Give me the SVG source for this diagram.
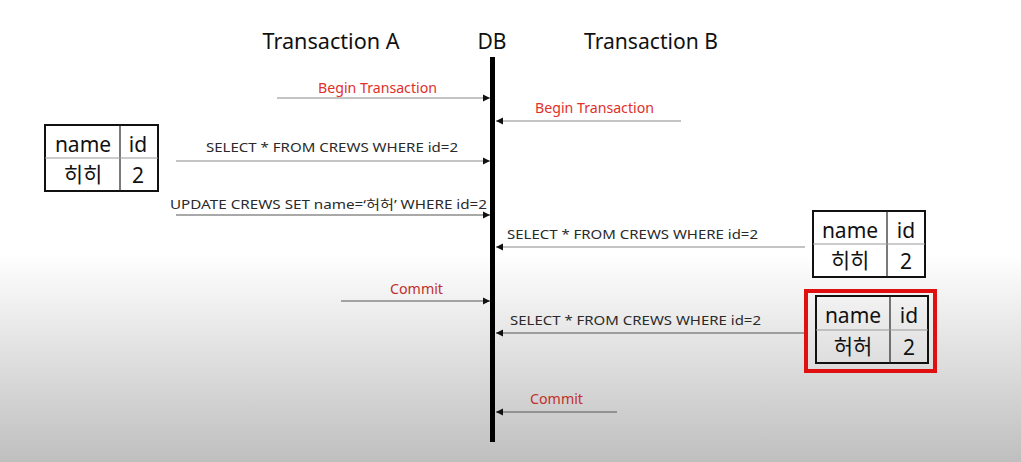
<svg xmlns="http://www.w3.org/2000/svg" width="1021" height="462" viewBox="0 0 1021 462">
<defs>
<linearGradient id="bg" x1="0" y1="0" x2="0" y2="462" gradientUnits="userSpaceOnUse">
<stop offset="0" stop-color="#ffffff"/>
<stop offset="0.55" stop-color="#ffffff"/>
<stop offset="1" stop-color="#bfbfbf"/>
</linearGradient>
<marker id="ah" markerWidth="8" markerHeight="8" refX="7" refY="4" orient="auto" markerUnits="userSpaceOnUse">
<path d="M0,0.5 L7,4 L0,7.5 Z" fill="#111"/>
</marker>
<style>
.hdr{font-family:"Noto Sans","Liberation Sans",sans-serif;font-size:21px;fill:#111;text-anchor:middle}
.lbl{font-family:"Noto Sans","Noto Sans CJK KR","Liberation Sans",sans-serif;font-size:13px;fill:#2a2a2a}
.red{font-family:"Noto Sans","Liberation Sans",sans-serif;font-size:13.5px;fill:#e0302a}
.dred{font-family:"Noto Sans","Liberation Sans",sans-serif;font-size:13.5px;fill:#c0302a}
.msg{stroke:#8a8a8a;stroke-width:1.2;fill:none}
.msg2{stroke:#555;stroke-width:1.2;fill:none}
.tb{fill:#fff;stroke:#111;stroke-width:2}
.tbg{fill:none;stroke:#111;stroke-width:2}
.cdiv{stroke:#222;stroke-width:1.2}
.rdiv{stroke:#999;stroke-width:1}
.cell{font-family:"Noto Sans","Noto Sans CJK KR",sans-serif;font-size:21px;fill:#111;text-anchor:middle}
.kr{font-family:"Noto Sans CJK KR","Noto Sans",sans-serif;font-size:21px;fill:#111;text-anchor:middle}
</style>
</defs>
<rect x="0" y="0" width="1021" height="462" fill="url(#bg)"/>

<g id="headers">
<text class="hdr" x="331" y="49" textLength="137" lengthAdjust="spacingAndGlyphs">Transaction A</text>
<text class="hdr" x="492" y="49" textLength="29" lengthAdjust="spacingAndGlyphs">DB</text>
<text class="hdr" x="651" y="49" textLength="134" lengthAdjust="spacingAndGlyphs">Transaction B</text>
</g>

<g id="db-lifeline">
<line x1="492.5" y1="57" x2="492.5" y2="442" stroke="#000" stroke-width="5"/>
</g>

<g id="connectors">
<line class="msg" x1="277" y1="98" x2="490" y2="98" marker-end="url(#ah)"/>
<line class="msg" x1="681" y1="121" x2="496" y2="121" marker-end="url(#ah)"/>
<line class="msg" x1="176" y1="161" x2="490" y2="161" marker-end="url(#ah)"/>
<line class="msg2" x1="176" y1="215" x2="490" y2="215" marker-end="url(#ah)"/>
<line class="msg" x1="805" y1="247" x2="496" y2="247" marker-end="url(#ah)"/>
<line class="msg2" x1="341" y1="301" x2="490" y2="301" marker-end="url(#ah)"/>
<line class="msg2" x1="805" y1="333" x2="496" y2="333" marker-end="url(#ah)"/>
<line class="msg2" x1="617" y1="412" x2="496" y2="412" marker-end="url(#ah)"/>
</g>

<g id="labels">
<text class="red" x="318" y="93" textLength="119" lengthAdjust="spacingAndGlyphs">Begin Transaction</text>
<text class="red" x="535" y="113" textLength="119" lengthAdjust="spacingAndGlyphs">Begin Transaction</text>
<text class="lbl" x="206" y="152" textLength="252" lengthAdjust="spacingAndGlyphs">SELECT * FROM CREWS WHERE id=2</text>
<text class="lbl" x="170" y="209" textLength="317" lengthAdjust="spacingAndGlyphs">UPDATE CREWS SET name=‘허허’ WHERE id=2</text>
<text class="lbl" x="507" y="239" textLength="251" lengthAdjust="spacingAndGlyphs">SELECT * FROM CREWS WHERE id=2</text>
<text class="dred" x="390" y="294" textLength="53" lengthAdjust="spacingAndGlyphs">Commit</text>
<text class="lbl" x="510" y="325" textLength="251" lengthAdjust="spacingAndGlyphs">SELECT * FROM CREWS WHERE id=2</text>
<text class="dred" x="530" y="404" textLength="53" lengthAdjust="spacingAndGlyphs">Commit</text>
</g>

<g id="table-a">
<rect class="tb" x="45" y="125" width="113" height="66"/>
<line class="cdiv" x1="120" y1="125" x2="120" y2="191"/>
<line class="rdiv" x1="45" y1="158" x2="158" y2="158"/>
<text class="cell" x="83" y="152">name</text>
<text class="cell" x="138" y="152">id</text>
<text class="kr" x="83" y="182">히히</text>
<text class="cell" x="138" y="183">2</text>
</g>

<g id="table-b1">
<rect class="tb" x="813" y="211" width="112" height="66"/>
<line class="cdiv" x1="887" y1="211" x2="887" y2="277"/>
<line class="rdiv" x1="813" y1="244" x2="925" y2="244"/>
<text class="cell" x="850" y="238">name</text>
<text class="cell" x="906" y="238">id</text>
<text class="kr" x="850" y="268">히히</text>
<text class="cell" x="906" y="269">2</text>
</g>

<g id="table-b2">
<rect x="806" y="291" width="129" height="80" fill="none" stroke="#e01010" stroke-width="4"/>
<rect class="tbg" x="816" y="296" width="112" height="67"/>
<line class="cdiv" x1="890" y1="296" x2="890" y2="363"/>
<line class="rdiv" x1="816" y1="330" x2="928" y2="330"/>
<text class="cell" x="853" y="323">name</text>
<text class="cell" x="909" y="323">id</text>
<text class="kr" x="853" y="354">허허</text>
<text class="cell" x="909" y="355">2</text>
</g>
</svg>
